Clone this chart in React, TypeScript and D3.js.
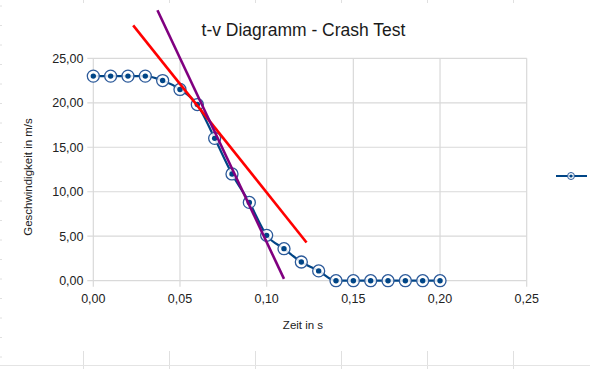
import React from "react";
import * as d3 from "d3";

// measured series (t in s, v in m/s)
const times = [0, 0.01, 0.02, 0.03, 0.04, 0.05, 0.06, 0.07, 0.08, 0.09, 0.1, 0.11, 0.12, 0.13, 0.14, 0.15, 0.16, 0.17, 0.18, 0.19, 0.2];
const speeds = [23, 23, 23, 23, 22.5, 21.5, 19.8, 16.0, 12.0, 8.8, 5.1, 3.6, 2.1, 1.1, 0, 0, 0, 0, 0, 0, 0];

// hand drawn tangent lines
const redLine: [number, number][] = [[0.023, 28.7], [0.123, 4.3]];
const purpleLine: [number, number][] = [[0.037, 30.4], [0.11, 0.2]];

const xTicks = [0, 0.05, 0.1, 0.15, 0.2, 0.25];
const yTicks = [0, 5, 10, 15, 20, 25];

// spreadsheet cell lines behind the chart
const colLines = [83.5, 169.5, 255.5, 341.5, 427.5, 513.5];

const W = 590, H = 369;
const margin = { left: 93.3, right: 63.3, top: 58.3, bottom: 88.3 };

const fmt = (v: number) => d3.format(".2f")(v).replace(".", ",");
const font = "'Liberation Sans', Arial, sans-serif";

export default function App() {
  const x = d3.scaleLinear().domain([0, 0.25]).range([margin.left, W - margin.right]);
  const y = d3.scaleLinear().domain([0, 25]).range([H - margin.bottom, margin.top]);

  const pts = times.map((t, i) => [t, speeds[i]] as [number, number]);
  const line = d3.line<[number, number]>().x((d) => x(d[0])).y((d) => y(d[1])).curve(d3.curveMonotoneX);
  const straight = d3.line<[number, number]>().x((d) => x(d[0])).y((d) => y(d[1]));

  const rows = d3.range(6, 369, 19.5);

  return (
    <svg width={W} height={H} style={{ position: "absolute", left: 0, top: 0, background: "#fff" }}>
      {/* cell grid remnants */}
      {colLines.map((cx) => (
        <g key={cx}>
          <line x1={cx} x2={cx} y1={0} y2={3} stroke="#e0e0e0" />
          <line x1={cx} x2={cx} y1={351} y2={H} stroke="#e0e0e0" />
        </g>
      ))}
      <line x1={0} x2={W} y1={365.5} y2={365.5} stroke="#e4e4e4" />
      {rows.map((ry) => (
        <line key={ry} x1={0} x2={2} y1={ry} y2={ry} stroke="#e0e0e0" />
      ))}

      <text x={303.5} y={36} textAnchor="middle" fontFamily={font} fontSize={17.5} fill="#1a1a1a">
        t-v Diagramm - Crash Test
      </text>

      {/* grid */}
      {yTicks.map((t) => (
        <g key={"y" + t}>
          <line x1={x(0) - 6} x2={x(0.25)} y1={y(t)} y2={y(t)} stroke="#d9d9d9" strokeWidth={1.2} />
          <text x={83.5} y={y(t) + 4.5} textAnchor="end" fontFamily={font} fontSize={12.5} fill="#222">
            {fmt(t)}
          </text>
        </g>
      ))}
      {xTicks.map((t) => (
        <g key={"x" + t}>
          <line x1={x(t)} x2={x(t)} y1={y(25)} y2={y(0) + 6} stroke="#d9d9d9" strokeWidth={1.2} />
          <text x={x(t)} y={303} textAnchor="middle" fontFamily={font} fontSize={12.5} fill="#222">
            {fmt(t)}
          </text>
        </g>
      ))}

      <text x={303} y={329} textAnchor="middle" fontFamily={font} fontSize={11.5} fill="#222">
        Zeit in s
      </text>
      <text transform="translate(32,177) rotate(-90)" textAnchor="middle" fontFamily={font} fontSize={11.5} fill="#222">
        Geschwindigkeit in m/s
      </text>

      {/* series */}
      <path d={line(pts) ?? ""} fill="none" stroke="#004586" strokeWidth={2.2} />
      {pts.map((d, i) => (
        <g key={i}>
          <circle cx={x(d[0])} cy={y(d[1])} r={6} fill="#ffffff" fillOpacity={0.85} stroke="#2c5a9a" strokeWidth={1.3} />
          <circle cx={x(d[0])} cy={y(d[1])} r={2.7} fill="#004586" />
        </g>
      ))}

      <path d={straight(redLine) ?? ""} fill="none" stroke="#ff0000" strokeWidth={2.6} />
      <path d={straight(purpleLine) ?? ""} fill="none" stroke="#800080" strokeWidth={2.6} />

      {/* legend */}
      <line x1={556} x2={587} y1={176} y2={176} stroke="#004586" strokeWidth={2} />
      <circle cx={571} cy={176} r={3.5} fill="#fff" fillOpacity={0.8} stroke="#2c5a9a" strokeWidth={1} />
      <circle cx={571} cy={176} r={1.6} fill="#004586" />
    </svg>
  );
}
